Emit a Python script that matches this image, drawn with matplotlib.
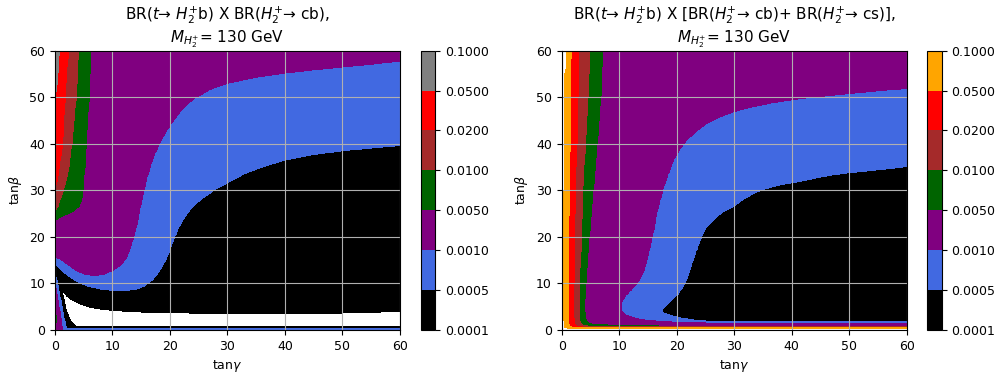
import numpy as np
import matplotlib
matplotlib.use("Agg")
import matplotlib.pyplot as plt
from matplotlib.path import Path

# Contour levels of the branching-ratio product and the fill colours of each band
levels = [0.0001, 0.0005, 0.0010, 0.0050, 0.0100, 0.0200, 0.0500, 0.1000]
left_colors = ['black', 'royalblue', 'purple', 'darkgreen', 'brown', 'red', 'grey']
right_colors = ['black', 'royalblue', 'purple', 'darkgreen', 'brown', 'red', 'orange']

# Representative BR inside each band
br_below_1e4 = 5e-5
br_band_black = 3e-4
br_band_blue = 7e-4
br_band_purple = 2e-3
br_band_green = 7e-3
br_band_brown = 1.5e-2
br_band_red = 3e-2
br_band_top = 7e-2
br_above_01 = 0.2

# ---------------- left panel: BR(t->H2+ b) x BR(H2+ -> cb) ----------------
# (tan gamma, tan beta) outlines of the regions bounded by each contour
left_below_0010 = [(-1, 15.8), (0, 15.8), (1, 15.2), (2, 14.3), (3, 13.4), (4, 12.6), (5.5, 11.9),
                   (7, 11.7), (8.5, 12.0), (10, 12.8), (11.5, 14.0), (12.5, 15.8), (13.3, 18.5),
                   (14.2, 22.5), (15.0, 27.5), (16.0, 33.0), (17.1, 37.2), (18.3, 40.5), (20, 44.0),
                   (22, 47.3), (24, 49.6), (27, 51.7), (30, 53.0), (35, 54.3), (40, 55.2), (45, 55.9),
                   (50, 56.5), (55, 57.1), (60, 57.8), (61, 57.9), (61, -1), (1.35, -1), (1.3, 0),
                   (0.8, 4), (0.2, 8.5), (0, 9.5), (-1, 9.5)]
left_below_0005 = [(-1, 14.3), (0, 14.3), (1, 13.0), (2, 11.9), (3.2, 10.9), (4.5, 10.0), (6, 9.3),
                   (8, 8.8), (10, 8.5), (12, 8.5), (14, 8.7), (15.5, 9.4), (16.8, 10.6), (17.8, 12.0),
                   (18.8, 14.0), (19.6, 16.0), (20.6, 19.3), (21.5, 22.0), (22.5, 24.2), (24, 26.6),
                   (26, 28.6), (28, 30.3), (30, 31.6), (33, 33.6), (36, 35.0), (40, 36.5), (45, 37.7),
                   (50, 38.5), (55, 39.1), (60, 39.6), (61, 39.7), (61, 0.35), (1.95, 0.35), (1.2, 5.0),
                   (0.3, 11.0), (0, 12.0), (-1, 12.0)]
left_below_0001 = [(1.15, 9.0), (1.5, 8.2), (2.0, 7.4), (2.8, 6.6), (3.8, 6.0), (5, 5.3), (6.1, 4.9),
                   (8, 4.5), (10, 4.25), (13, 4.0), (16, 3.85), (20, 3.75), (25, 3.6), (30, 3.5),
                   (40, 3.55), (50, 3.65), (56, 3.7), (57, 3.95), (61, 3.95), (61, 0.7), (4.2, 0.7),
                   (3.5, 0.85), (2.6, 2.15), (2.0, 4.0), (1.6, 6.0), (1.3, 8.0)]
left_above_0050 = [(-1, 23.5), (0, 23.5), (1.0, 24.3), (2.3, 25.0), (3.3, 25.6), (4.2, 26.6),
                   (4.6, 27.8), (4.9, 30), (5.2, 35), (5.45, 40), (5.7, 45), (5.95, 50), (6.1, 55),
                   (6.2, 60), (6.2, 61), (-1, 61)]
left_above_0050_corner = [(-1, 1.5), (0.25, 1.5), (0.25, 3.0), (-1, 3.0)]
left_above_0100 = [(-1, 25.5), (0, 25.5), (0.5, 26.6), (1.0, 28.5), (1.45, 30), (1.9, 32), (2.3, 34),
                   (2.6, 37), (2.9, 40), (3.3, 45), (3.65, 50), (3.9, 55), (4.06, 60), (4.06, 61),
                   (-1, 61)]
left_above_0200 = [(-1, 30), (0, 30), (0.4, 32.5), (0.75, 35), (1.0, 37.5), (1.33, 40), (1.55, 45),
                   (1.74, 50), (2.0, 55), (2.3, 60), (2.3, 61), (-1, 61)]
left_above_0500 = [(-1, 49), (0, 49), (0.3, 52.5), (0.55, 56), (0.75, 60), (0.75, 61), (-1, 61)]

# ------------- right panel: BR(t->H2+ b) x [BR(H2+ -> cb) + BR(H2+ -> cs)] -------------
right_below_0010 = [(61, 52.0), (60, 51.9), (55, 51.4), (50, 50.8), (45, 50.2), (41.4, 49.7),
                    (38, 49.1), (35.7, 48.6), (33, 47.9), (29.9, 46.9), (27.5, 45.8), (25.2, 44.4),
                    (23.5, 42.8), (21.7, 40.8), (20.5, 38.8), (19.4, 36.5), (18.5, 33.5), (17.7, 30.8),
                    (17.0, 27.5), (16.5, 25.0), (16.0, 21.5), (15.6, 19.3), (15.0, 16.0), (14.3, 12.8),
                    (13.3, 10.4), (12.2, 8.8), (11.1, 7.4), (10.5, 6.2), (10.3, 5.0), (10.5, 3.9),
                    (11.2, 3.2), (12.3, 2.7), (13.6, 2.3), (15.2, 2.0), (18.3, 1.75), (21, 1.6),
                    (25, 1.5), (30, 1.45), (40, 1.4), (50, 1.35), (61, 1.3)]
right_below_0005 = [(61, 35.2), (60, 35.1), (55, 34.4), (50, 33.8), (47, 33.3), (44, 32.6),
                    (41.4, 31.9), (38, 31.2), (35, 30.2), (33.3, 29.3), (31.5, 28.0), (30, 26.6),
                    (28, 25.3), (26.5, 23.8), (25.2, 22.2), (24.5, 20.5), (24.0, 19.0), (23.4, 17.0),
                    (22.9, 15.2), (22.3, 13.0), (21.8, 11.0), (21.1, 9.3), (20.3, 7.8), (19.1, 6.4),
                    (18.0, 5.1), (17.4, 4.2), (17.8, 3.6), (19.0, 3.1), (21.0, 2.5), (23.0, 2.15),
                    (25.1, 1.95), (30.0, 1.85), (40, 1.8), (50, 1.75), (61, 1.7)]
right_above_0050 = [(-1, 61), (7.2, 61), (7.1, 60), (6.8, 50), (6.2, 40), (5.5, 30), (4.8, 20),
                    (4.2, 10), (4.05, 5), (4.15, 2.5), (4.5, 1.6), (5.5, 1.2), (8, 1.1), (15, 1.05),
                    (17, 0.85), (30, 0.8), (61, 0.78), (61, -1), (-1, -1)]
right_above_0100 = [(-1, 61), (4.85, 61), (4.8, 60), (4.6, 50), (4.1, 40), (3.65, 30), (3.4, 20),
                    (3.1, 10), (3.05, 4), (3.2, 1.8), (3.6, 1.1), (4.5, 0.85), (6, 0.72), (61, 0.68),
                    (61, -1), (-1, -1)]
right_above_0200 = [(-1, 61), (3.0, 61), (2.96, 60), (2.8, 50), (2.6, 40), (2.4, 30), (2.2, 20),
                    (2.1, 10), (2.05, 3), (2.2, 1.3), (2.7, 0.75), (4, 0.6), (61, 0.57), (61, -1),
                    (-1, -1)]
right_above_0500 = [(-1, 61), (1.65, 61), (1.62, 60), (1.5, 50), (1.33, 30), (1.22, 10), (1.2, 2),
                    (1.35, 0.8), (2, 0.5), (61, 0.45), (61, -1), (-1, -1)]
right_above_1000 = [(-1, 61), (0.8, 61), (0.75, 60), (0.7, 56), (0.45, 54), (0.4, 30), (0.4, 2),
                    (0.55, 0.5), (1.5, 0.25), (61, 0.2), (61, -1), (-1, -1)]

# Scan grid in (tan gamma, tan beta)
tan_gamma = np.linspace(0, 60, 601)
tan_beta = np.linspace(0, 60, 1201)
TG, TB = np.meshgrid(tan_gamma, tan_beta)
points = np.column_stack([TG.ravel(), TB.ravel()])


def region(*outlines):
    mask = np.zeros(len(points), dtype=bool)
    for outline in outlines:
        mask |= Path(outline).contains_points(points)
    return mask.reshape(TG.shape)


def br_map(steps):
    br = np.full(TG.shape, br_band_purple)
    for outlines, value in steps:
        br[region(*outlines)] = value
    return br


br_left = br_map([
    ([left_below_0010], br_band_blue),
    ([left_below_0005], br_band_black),
    ([left_below_0001], br_below_1e4),
    ([left_above_0050, left_above_0050_corner], br_band_green),
    ([left_above_0100], br_band_brown),
    ([left_above_0200], br_band_red),
    ([left_above_0500], br_band_top),
])
br_right = br_map([
    ([right_below_0010], br_band_blue),
    ([right_below_0005], br_band_black),
    ([right_above_0050], br_band_green),
    ([right_above_0100], br_band_brown),
    ([right_above_0200], br_band_red),
    ([right_above_0500], br_band_top),
    ([right_above_1000], br_above_01),
])

fig = plt.figure(figsize=(9.98, 3.81), dpi=100)
ax_l = fig.add_axes([0.0551, 0.1339, 0.3457, 0.7331])
cax_l = fig.add_axes([0.4218, 0.1339, 0.0145, 0.7331])
ax_r = fig.add_axes([0.5628, 0.1339, 0.3457, 0.7331])
cax_r = fig.add_axes([0.9289, 0.1339, 0.0147, 0.7331])

titles = [
    "BR($t$→ $H_2^{+}$b) X BR($H_2^{+}$→ cb),\n$M_{H_2^{+}}$= 130 GeV",
    "BR($t$→ $H_2^{+}$b) X [BR($H_2^{+}$→ cb)+ BR($H_2^{+}$→ cs)],\n$M_{H_2^{+}}$= 130 GeV",
]

for ax, cax, br, colors, title in [(ax_l, cax_l, br_left, left_colors, titles[0]),
                                   (ax_r, cax_r, br_right, right_colors, titles[1])]:
    cs = ax.contourf(TG, TB, br, levels=levels, colors=colors)
    ax.set_xlim(0, 60)
    ax.set_ylim(0, 60)
    ax.set_xticks(range(0, 61, 10))
    ax.set_yticks(range(0, 61, 10))
    ax.grid(True)
    ax.tick_params(labelsize=9)
    ax.set_xlabel("tan$\\gamma$", fontsize=9)
    ax.set_ylabel("tan$\\beta$", fontsize=9)
    ax.set_title(title, fontsize=11)
    cb = fig.colorbar(cs, cax=cax, format='%.4f')
    cb.ax.tick_params(labelsize=9)

fig.savefig("out.png", dpi=100)
